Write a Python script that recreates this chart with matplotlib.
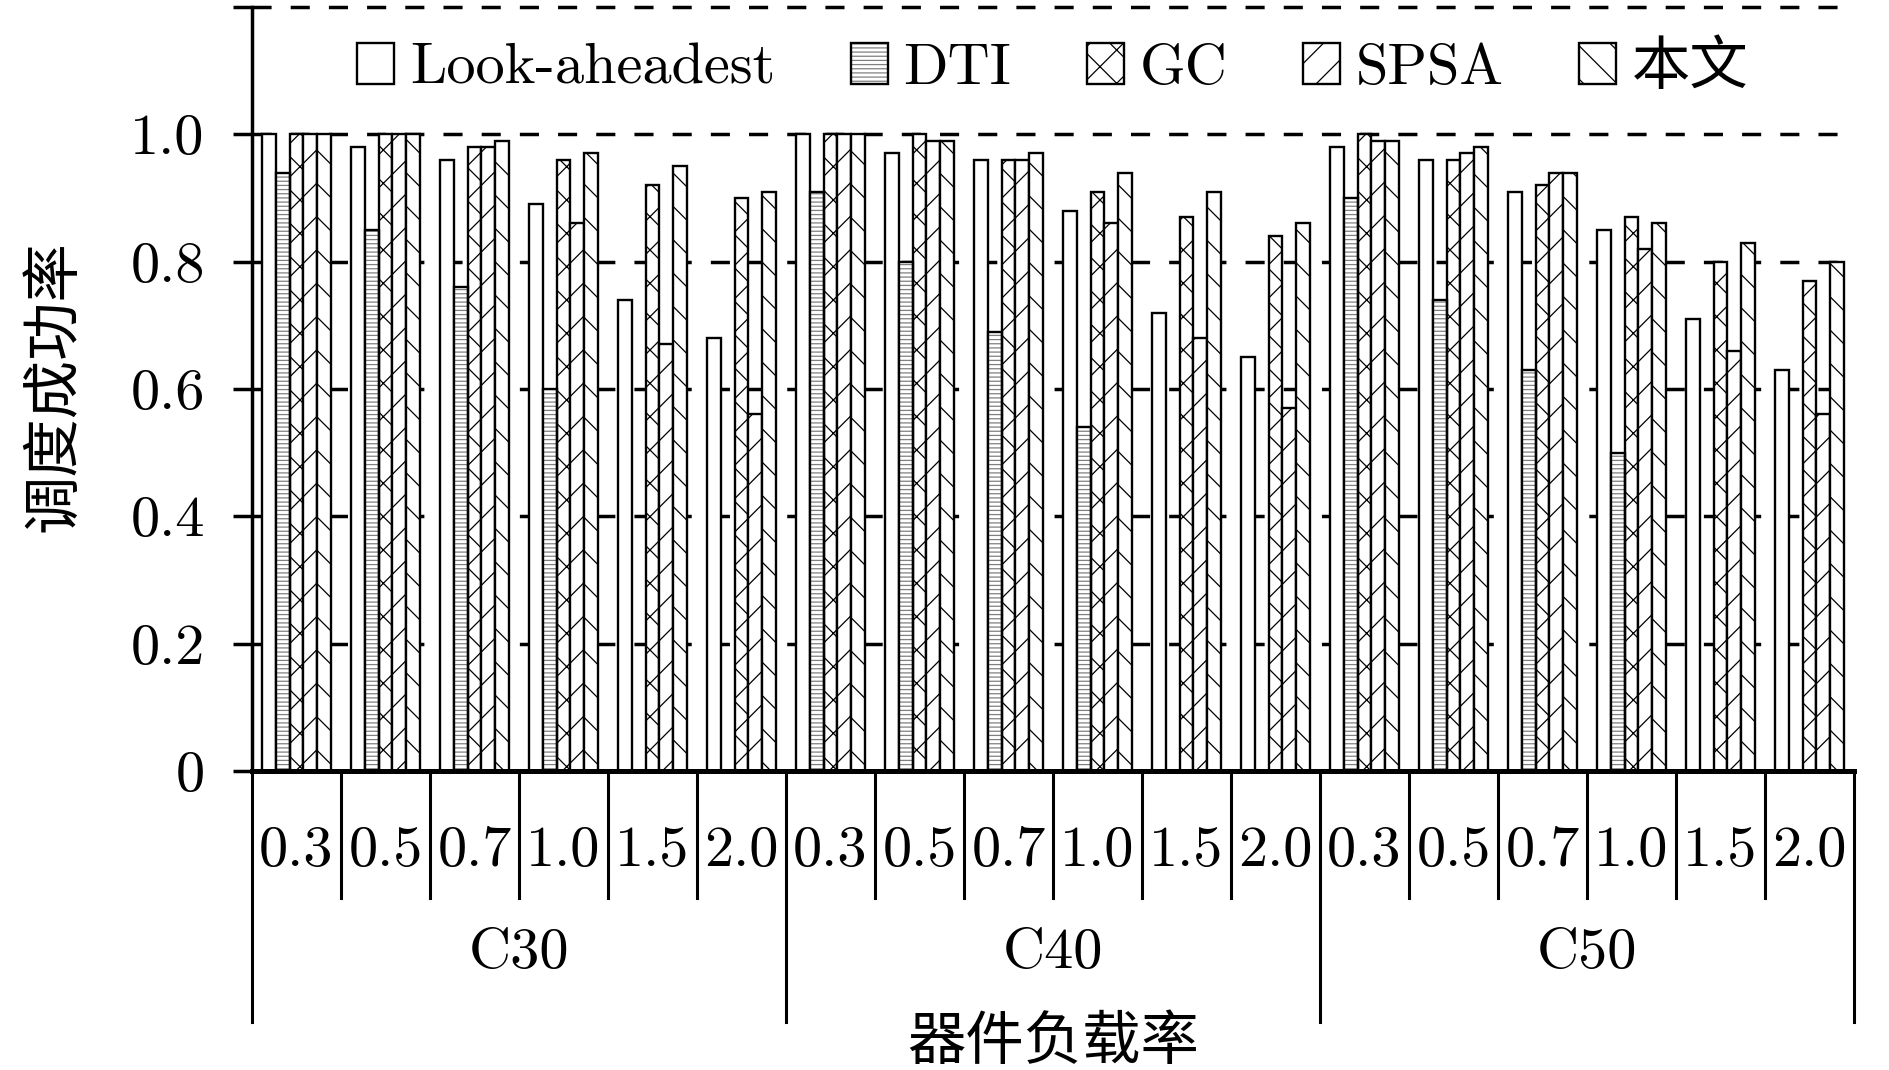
import matplotlib
matplotlib.use("Agg")  # no display

import matplotlib.pyplot as plt
import numpy as np
from matplotlib.patches import Patch

plt.rcParams['font.family'] = ['cmr10', 'Noto Sans CJK SC']
plt.rcParams['axes.formatter.use_mathtext'] = True
plt.rcParams['hatch.linewidth'] = 0.9

# --- data ---
groups = ["C30", "C40", "C50"]
loads = ["0.3", "0.5", "0.7", "1.0", "1.5", "2.0"]
methods = ["Look-aheadest", "DTI", "GC", "SPSA", "本文"]

look_ahead = [1.00, 0.98, 0.96, 0.89, 0.74, 0.68,
              1.00, 0.97, 0.96, 0.88, 0.72, 0.65,
              0.98, 0.96, 0.91, 0.85, 0.71, 0.63]
dti = [0.94, 0.85, 0.76, 0.60, 0.0, 0.0,
       0.91, 0.80, 0.69, 0.54, 0.0, 0.0,
       0.90, 0.74, 0.63, 0.50, 0.0, 0.0]
gc = [1.00, 1.00, 0.98, 0.96, 0.92, 0.90,
      1.00, 1.00, 0.96, 0.91, 0.87, 0.84,
      1.00, 0.96, 0.92, 0.87, 0.80, 0.77]
spsa = [1.00, 1.00, 0.98, 0.86, 0.67, 0.56,
        1.00, 0.99, 0.96, 0.86, 0.68, 0.57,
        0.99, 0.97, 0.94, 0.82, 0.66, 0.56]
ours = [1.00, 1.00, 0.99, 0.97, 0.95, 0.91,
        1.00, 0.99, 0.97, 0.94, 0.91, 0.86,
        0.99, 0.98, 0.94, 0.86, 0.83, 0.80]

series = [look_ahead, dti, gc, spsa, ours]
hatches = ["", "----", "x", "/", "\\"]

FS = 42
n = len(groups) * len(loads)
x = np.arange(n) + 0.5
w = 0.157

fig = plt.figure(figsize=(18.9, 10.7), dpi=100)
ax = fig.add_axes([252 / 1890, 1 - 771 / 1070, 1602 / 1890, 770.4 / 1070])

handles = []
for k, (vals, h) in enumerate(zip(series, hatches)):
    pos = x + (k - 2) * w
    if k == 1:
        # grey hatch underneath, black outline on top
        ax.bar(pos, vals, w, facecolor="white", edgecolor="0.5", hatch=h,
               linewidth=0, zorder=2)
        ax.bar(pos, vals, w, fill=False, edgecolor="black", linewidth=1.7, zorder=3)
        handles.append((Patch(facecolor="white", edgecolor="0.5", hatch=h, linewidth=0),
                        Patch(fill=False, edgecolor="black", linewidth=1.7)))
    else:
        ax.bar(pos, vals, w, facecolor="white", edgecolor="black", hatch=h,
               linewidth=1.7, zorder=2)
        handles.append(Patch(facecolor="white", edgecolor="black", hatch=h, linewidth=1.7))

# --- axes styling ---
ax.set_xlim(0, n)
ax.set_ylim(0, 1.21)
yt = np.arange(0, 1.21, 0.2)
ax.set_yticks(yt)
ax.set_yticklabels(["0", "0.2", "0.4", "0.6", "0.8", "1.0", ""], fontsize=FS)
ax.set_xticks([])
ax.tick_params(axis="y", direction="out", length=14, width=2.5, pad=20)
ax.yaxis.grid(True, color="black", linewidth=2.5, linestyle=(0, (5.5, 5.5)))
ax.set_axisbelow(True)
for s in ["top", "right"]:
    ax.spines[s].set_visible(False)
ax.spines["left"].set_linewidth(2.5)
ax.spines["left"].set_bounds(0, 1.2)
ax.spines["bottom"].set_linewidth(3.6)
ax.spines["bottom"].set_zorder(5)

# --- two level category axis ---
xt = ax.get_xaxis_transform()
for b in range(n + 1):
    bottom = -0.326 if b % len(loads) == 0 else -0.165
    ax.plot([b, b], [0, bottom], transform=xt, clip_on=False, color="black", lw=2.2)
for i, lab in enumerate(loads * len(groups)):
    ax.text(i + 0.5, -0.105, lab, transform=xt, ha="center", va="center", fontsize=FS)
for g, lab in enumerate(groups):
    ax.text(g * len(loads) + len(loads) / 2, -0.237, lab, transform=xt,
            ha="center", va="center", fontsize=FS)
ax.text(n / 2, -0.353, "器件负载率", transform=xt, ha="center", va="center",
        fontsize=FS, family=["Noto Sans CJK SC"])
ax.text(-0.1236, 0.5, "调度成功率", transform=ax.transAxes, rotation=90,
        ha="center", va="center", fontsize=FS, family=["Noto Sans CJK SC"])

ax.legend(handles, methods, loc="center", bbox_to_anchor=(0.5, 1.105 / 1.21),
          ncol=5, frameon=False, fontsize=FS, handlelength=0.63, handleheight=0.72,
          handletextpad=0.27, columnspacing=1.3, borderaxespad=0, borderpad=0)

fig.savefig("out.png", dpi=100)
